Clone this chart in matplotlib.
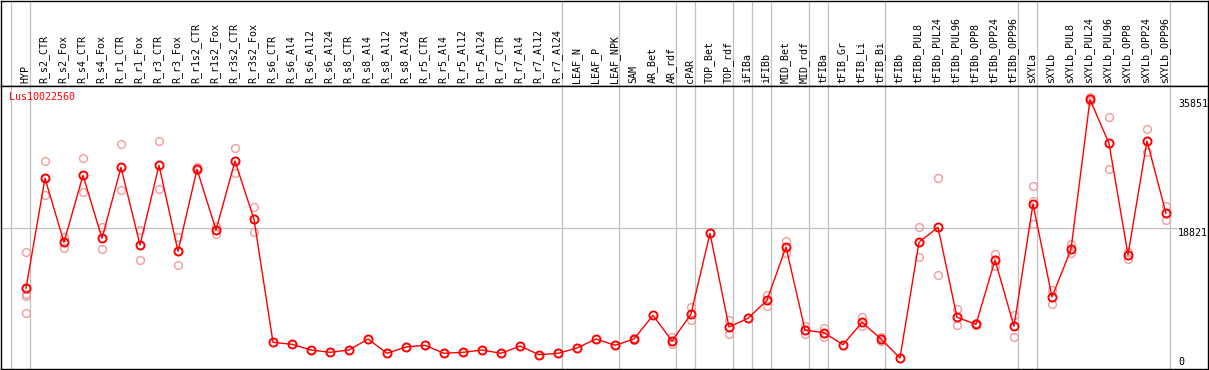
import numpy as np
import matplotlib.pyplot as plt
import matplotlib.transforms as mtransforms

labels = ["HYP", "R_s2_CTR", "R_s2_Fox", "R_s4_CTR", "R_s4_Fox", "R_r1_CTR", "R_r1_Fox",
          "R_r3_CTR", "R_r3_Fox", "R_r1s2_CTR", "R_r1s2_Fox", "R_r3s2_CTR", "R_r3s2_Fox",
          "R_s6_CTR", "R_s6_Al4", "R_s6_Al12", "R_s6_Al24", "R_s8_CTR", "R_s8_Al4",
          "R_s8_Al12", "R_s8_Al24", "R_r5_CTR", "R_r5_Al4", "R_r5_Al12", "R_r5_Al24",
          "R_r7_CTR", "R_r7_Al4", "R_r7_Al12", "R_r7_Al24", "LEAF_N", "LEAF_P", "LEAF_NPK",
          "SAM", "AR_Bet", "AR_rdf", "cPAR", "TOP_Bet", "TOP_rdf", "iFIBa", "iFIBb",
          "MID_Bet", "MID_rdf", "tFIBa", "tFIB_Gr", "tFIB_Li", "tFIB_Bi", "tFIBb",
          "tFIBb_PUL8", "tFIBb_PUL24", "tFIBb_PUL96", "tFIBb_OPP8", "tFIBb_OPP24",
          "tFIBb_OPP96", "sXYLa", "sXYLb", "sXYLb_PUL8", "sXYLb_PUL24", "sXYLb_PUL96",
          "sXYLb_OPP8", "sXYLb_OPP24", "sXYLb_OPP96"]

means = [10734, 25365, 16852, 25764, 17385, 26828, 16493, 27094, 15655, 26562, 18488,
         27666, 19911, 3551, 3285, 2527, 2221, 2527, 3990, 2088, 2926, 3152, 2088, 2221,
         2527, 2088, 3059, 1902, 2088, 2793, 3990, 3152, 3990, 7143, 3724, 7316, 18049,
         5586, 6744, 9138, 16227, 5187, 4828, 3232, 6212, 3990, 1463, 16852, 18848, 6877,
         5946, 14498, 5680, 21947, 9577, 15921, 35851, 30020, 15203, 30326, 20710]

# replicate values (only where they show apart from the mean)
reps = [[15523, 9976, 9710, 7409], [27626, 23104], [17597, 16134], [28025, 23503],
        [18848, 15921], [29887, 23769], [18449, 14458], [30287, 23902], [17557, 13833],
        [26868, 26469], [19020, 17956], [29356, 26030], [21508, 18182],
        [], [], [], [], [], [], [], [], [], [], [], [], [], [], [], [], [], [], [],
        [4100, 3880], [], [4216, 3285], [8207, 6517], [], [6517, 4615], [], [9883, 8380],
        [17025, 15389], [5719, 4655], [5453, 4256], [], [6877, 5719], [4296, 3764], [],
        [18848, 14857], [25365, 12463], [7981, 5813], [6079, 5813], [15296, 13700],
        [7143, 4216], [24301, 22386, 19247], [10508, 8606], [16626, 15469], [36139, 35607],
        [33479, 26562], [15562, 14591], [31883, 28823], [21721, 19778]]

# last column of each group
group_ends = [-1, 0, 28, 31, 34, 35, 37, 38, 39, 41, 42, 45, 52, 53, 60]

gene = "Lus10022560"

W, H = 1209, 370
red = "#ff0000"
pink = "#f29c9c"
grey = "#c0c0c0"
font = dict(family="DejaVu Sans Mono", size=7.2)


def box(x0, y0, x1, y1):
    return [x0 / W, 1 - y1 / H, (x1 - x0) / W, (y1 - y0) / H]


def col(px):
    return (px - 26) / 19.0


x = np.arange(len(labels))
y_top = max(means) * 1.05
xlim = (col(1), col(1208))

fig = plt.figure(figsize=(W / 100, H / 100), dpi=100)
ax_lab = fig.add_axes(box(1, 0.6, 1208, 86))
ax = fig.add_axes(box(1, 86, 1208, 369))

for a in (ax_lab, ax):
    a.set_xlim(*xlim)
    a.set_xticks([])
    a.set_yticks([])
    for s in a.spines.values():
        s.set_linewidth(1.0)
        s.set_color("black")
    for g in group_ends:
        a.axvline(g + 0.23, color=grey, lw=0.9, zorder=0)

ax_lab.set_ylim(0, 1)
for i, lab in enumerate(labels):
    ax_lab.text(i - 0.05, 0.03, lab, rotation=90, ha="center", va="bottom", **font)

ax.set_ylim(0, y_top)
ax.hlines(y_top / 2, xlim[0], col(1177), color=grey, lw=0.9, zorder=0)

for i, r in enumerate(reps):
    if r:
        ax.plot([i] * len(r), r, "o", mfc="none", mec=pink, ms=5.6, mew=1.0, zorder=2)
ax.plot(x, means, "-", color=red, lw=1.0, zorder=3)
ax.plot(x, means, "o", mfc="none", mec=red, ms=5.8, mew=1.4, zorder=4)

ax.text(8 / 1207, 0.961, gene, color=red, transform=ax.transAxes, ha="left", va="center", **font)

lx = col(1178)
ax.text(lx, max(means), str(int(max(means))), ha="left", va="top", **font)
ax.text(lx, y_top / 2, str(int(y_top / 2)), ha="left", va="top", **font)
off = mtransforms.offset_copy(ax.transData, fig=fig, x=0, y=2, units="dots")
ax.text(lx, 0, "0", ha="left", va="bottom", transform=off, **font)

fig.savefig("out.png", dpi=100)
